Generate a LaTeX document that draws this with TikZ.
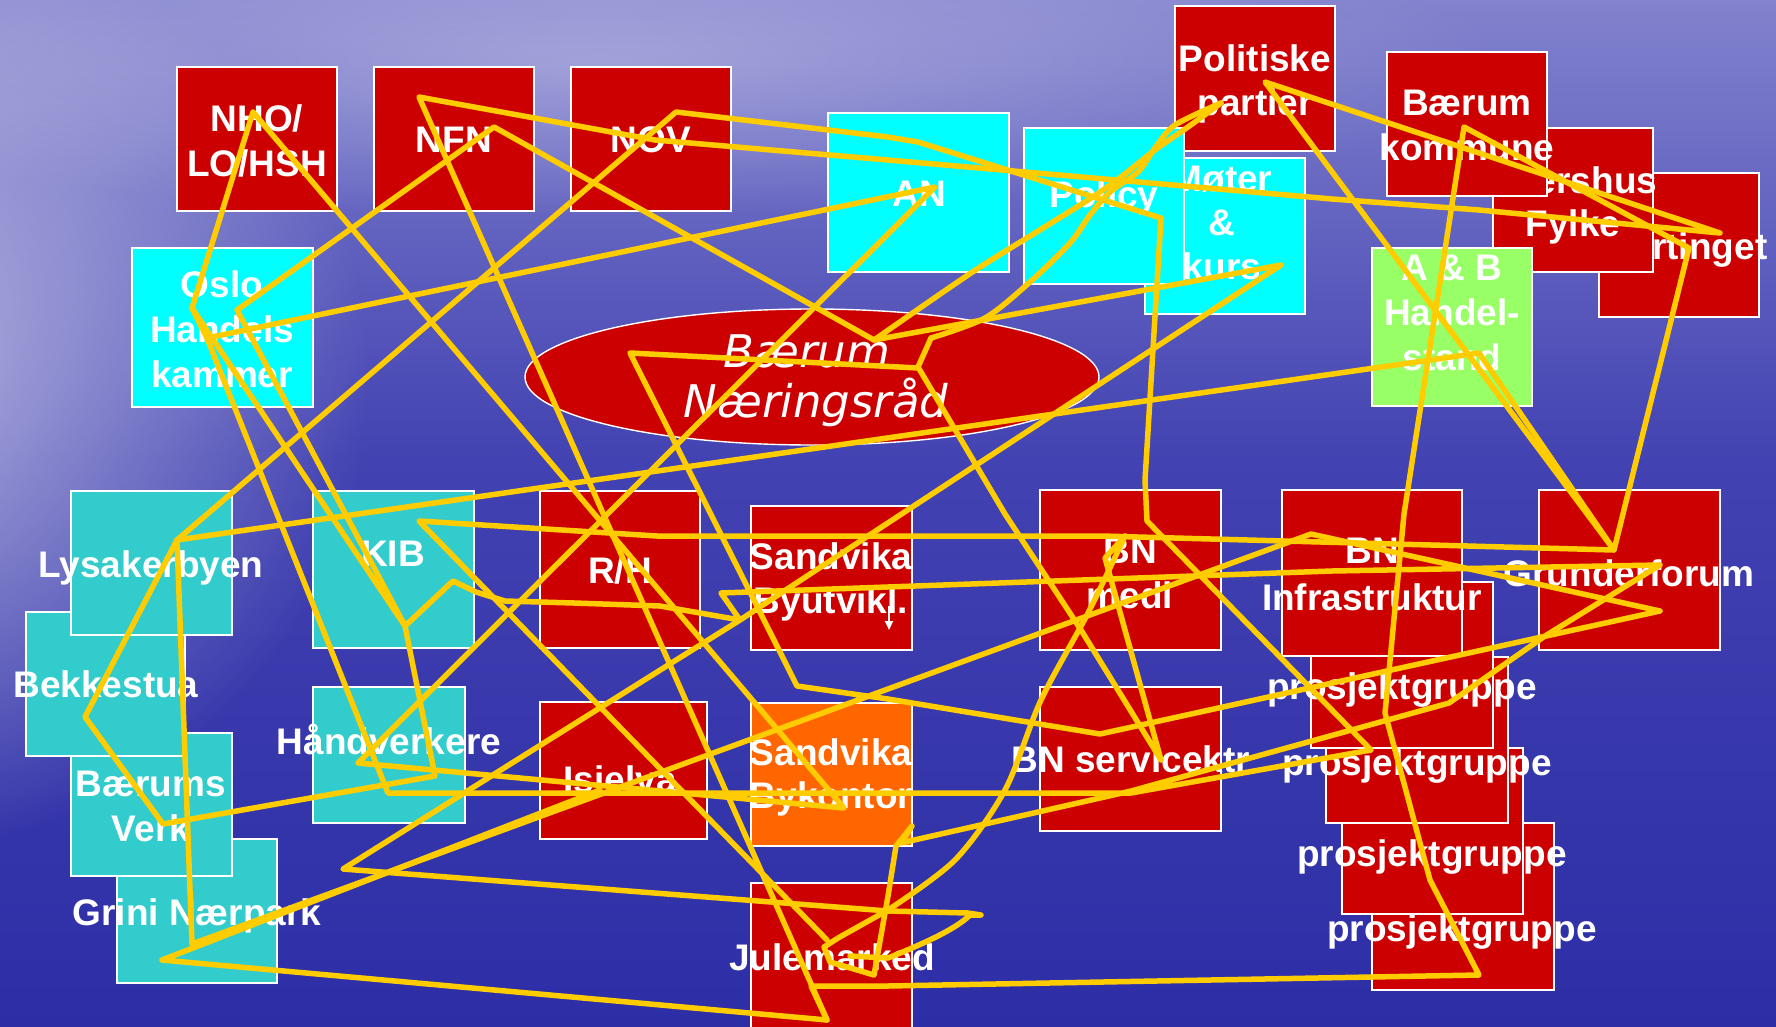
\documentclass[tikz,border=0pt]{standalone}
\usepackage{fontspec}
\setmainfont{Liberation Sans}
\newfontfamily\ellfont{DejaVu Sans}
\usetikzlibrary{fadings,fit,arrows.meta,shapes.geometric}
\definecolor{bred}{HTML}{CC0000}
\definecolor{bcyan}{HTML}{00FFFF}
\definecolor{bteal}{HTML}{33CCCC}
\definecolor{bgreen}{HTML}{99FF66}
\definecolor{borange}{HTML}{FF6600}
\definecolor{scrib}{HTML}{FFCC00}
\definecolor{bgtop}{HTML}{8282CE}
\definecolor{bgmid}{HTML}{4242B2}
\definecolor{bgbot}{HTML}{2D2DA6}
\tikzfading[name=glowfade, inner color=transparent!0, outer color=transparent!100]
\newcommand\bxfont{\fontsize{37}{44}\selectfont\bfseries}
\newcommand\elfont{\ellfont\itshape\fontsize{45}{50}\selectfont}
\tikzset{
  box/.style={draw=white, line width=1.4pt, inner sep=0pt, outer sep=0pt},
  lbl/.style={text=white, font=\bxfont, inner sep=0pt, text height=27pt, text depth=0pt},
  scr/.style={draw=scrib, line width=5.5pt, line join=round, line cap=round},
}
\begin{document}
\begin{tikzpicture}[x=1pt,y=-1pt]
\useasboundingbox (0,0) rectangle (1776,1027);
\clip (0,0) rectangle (1776,1027);
% background
\shade[top color=bgtop, bottom color=bgmid] (0,0) rectangle (1776,460);
\shade[top color=bgmid, bottom color=bgbot] (0,459) rectangle (1776,1027);
\fill[white, path fading=glowfade, fill opacity=0.6] (-150,380) ellipse [x radius=520pt, y radius=480pt];
\fill[white, path fading=glowfade, fill opacity=0.3] (600,60) ellipse [x radius=900pt, y radius=160pt];

% top row
\node[box, fill=bred, fit={(177,67) (337,211)}] (nho) {};
\node[lbl] (nhoA) at (257,118) {NHO/};
\node[lbl] (nhoB) at (257,163) {LO/HSH};
\node[box, fill=bred, fit={(374,67) (534,211)}] (nfn) {};
\node[lbl] (nfnA) at (454,139) {NFN};
\node[box, fill=bred, fit={(571,67) (731,211)}] (nov) {};
\node[lbl] (novA) at (651,139) {NOV};
\node[box, fill=bcyan, fit={(828,113) (1009,272)}] (an) {};
\node[lbl] (anA) at (919,193) {AN};
\node[box, fill=bred, fit={(1175,6) (1335,151)}] (pol) {};
\node[lbl] (polA) at (1255,58) {Politiske};
\node[lbl] (polB) at (1255,102) {partier};
\node[box, fill=bcyan, fit={(1145,158) (1305,314)}] (mot) {};
\node[lbl] (motA) at (1222,178) {Møter};
\node[lbl] (motB) at (1222,222) {\&};
\node[lbl] (motC) at (1222,266) {kurs};
\node[box, fill=bcyan, fit={(1024,128) (1184,284)}] (policy) {};
\node[lbl] (policyA) at (1104,194) {Policy};
\node[box, fill=bred, fit={(1599,173) (1759,317)}] (sto) {};
\node[lbl] (stoA) at (1680,246) {Stortinget};
\node[box, fill=bred, fit={(1493,128) (1653,272)}] (ake) {};
\node[lbl] (akeA) at (1573,180) {Akershus};
\node[lbl] (akeB) at (1573,223) {Fylke};
\node[box, fill=bred, fit={(1387,52) (1547,196)}] (bk) {};
\node[lbl] (bkA) at (1467,102) {Bærum};
\node[lbl] (bkB) at (1467,147) {kommune};
\node[box, fill=bgreen, fit={(1372,248) (1532,406)}] (ab) {};
\node[lbl] (abA) at (1452,267) {A \& B};
\node[lbl] (abB) at (1452,312) {Handel-};
\node[lbl] (abC) at (1452,357) {stand};
\node[box, fill=bcyan, fit={(132,248) (313,407)}] (oslo) {};
\node[lbl] (osloA) at (222,284) {Oslo};
\node[lbl] (osloB) at (222,329) {Handels};
\node[lbl] (osloC) at (222,374) {kammer};

% ellipse
\node[draw=white, line width=1.4pt, fill=bred, ellipse, inner sep=0pt, minimum width=574pt, minimum height=136pt] (bnr) at (812,377) {};
\node[text=white, font=\elfont, anchor=base, inner sep=0pt] (bnrA) at (807,367) {Bærum};
\node[text=white, font=\elfont, anchor=base, inner sep=0pt] (bnrB) at (816,417) {Næringsråd};

% left column
\node[box, fill=bteal, fit={(117,839) (277,983)}] (grini) {};
\node[lbl] (griniA) at (197,912) {Grini Nærpark};
\node[box, fill=bteal, fit={(71,733) (232,876)}] (bverk) {};
\node[lbl] (bverkA) at (151,783) {Bærums};
\node[lbl] (bverkB) at (151,828) {Verk};
\node[box, fill=bteal, fit={(26,612) (185,756)}] (bekk) {};
\node[lbl] (bekkA) at (106,684) {Bekkestua};
\node[box, fill=bteal, fit={(71,491) (232,635)}] (lysa) {};
\node[lbl] (lysaA) at (151,564) {Lysakerbyen};
\node[box, fill=bteal, fit={(313,491) (474,648)}] (kib) {};
\node[lbl] (kibA) at (393,553) {KIB};
\node[box, fill=bteal, fit={(313,687) (465,823)}] (hand) {};
\node[lbl] (handA) at (389,741) {Håndverkere};

% middle
\node[box, fill=bred, fit={(540,491) (700,648)}] (rh) {};
\node[lbl] (rhA) at (620,570) {R/H};
\node[box, fill=bred, fit={(540,702) (707,839)}] (isi) {};
\node[lbl] (isiA) at (620,779) {Isielva};
\node[box, fill=bred, fit={(751,506) (912,650)}] (sby) {};
\node[lbl] (sbyA) at (831,556) {Sandvika};
\node[lbl] (sbyB) at (831,600) {Byutvikl.};
\draw[white, line width=2pt, -{Triangle[length=9pt,width=8pt]}] (889,606) -- (889,630);
\node[box, fill=borange, fit={(751,703) (912,846)}] (sbk) {};
\node[lbl] (sbkA) at (831,752) {Sandvika};
\node[lbl] (sbkB) at (831,795) {Bykontor};
\node[box, fill=bred, fit={(751,883) (912,1045)}] (jul) {};
\node[lbl] (julA) at (832,957) {Julemarked};
\node[box, fill=bred, fit={(1040,490) (1221,650)}] (bnm) {};
\node[lbl] (bnmA) at (1130,550) {BN};
\node[lbl] (bnmB) at (1130,595) {medl};
\node[box, fill=bred, fit={(1040,687) (1221,831)}] (bns) {};
\node[lbl] (bnsA) at (1131,759) {BN servicektr};

% right
\node[box, fill=bred, fit={(1372,823) (1554,990)}] (pg4) {};
\node[lbl] (pg4A) at (1462,928) {prosjektgruppe};
\node[box, fill=bred, fit={(1342,748) (1523,914)}] (pg3) {};
\node[lbl] (pg3A) at (1432,853) {prosjektgruppe};
\node[box, fill=bred, fit={(1326,657) (1508,823)}] (pg2) {};
\node[lbl] (pg2A) at (1417,762) {prosjektgruppe};
\node[box, fill=bred, fit={(1311,582) (1493,748)}] (pg1) {};
\node[lbl] (pg1A) at (1402,686) {prosjektgruppe};
\node[box, fill=bred, fit={(1282,490) (1462,656)}] (bni) {};
\node[lbl] (bniA) at (1372,550) {BN};
\node[lbl] (bniB) at (1372,597) {Infrastruktur};
\node[box, fill=bred, fit={(1539,490) (1720,650)}] (gru) {};
\node[lbl] (gruA) at (1629,573) {Grunderforum};

% scribble
\draw[scr] (253,112) -- (192,308) -- (207,338) -- (935,187) -- (358,763) -- (844,808) -- (253,112);
\draw[scr] (207,338) -- (388,793) -- (1131,793) -- (1371,750) -- (1147,521) -- (1145,480) -- (1161,218)
  -- (918,142) -- (888,137) -- (676,112) -- (177,540) -- (85,717) -- (163,824) -- (435,776) -- (405,626)
  -- (453,581) -- (476,592) -- (505,601) -- (574,603) -- (660,606) -- (740,620) -- (721,593)
  -- (1332,571) -- (1660,565) -- (1545,636) -- (1449,703) -- (1131,791) -- (901,843) -- (912,826)
  -- (896,846) -- (888,896) -- (874,975) -- (830,962) -- (824,947) -- (838,938) -- (888,910);
\draw[scr] plot[smooth] coordinates {(888,910) (955,860) (1005,790) (1041,700) (1088,613) (1125,536)};
\draw[scr] (1125,536) -- (1105,558) -- (1161,760) -- (1081,630) -- (1005,514) -- (918,367) -- (931,338);
\draw[scr] plot[smooth] coordinates {(931,338) (985,318) (1030,282) (1070,243) (1090,215) (1110,192) (1138,172) (1155,148) (1175,125) (1221,103)};
\draw[scr] plot[smooth] coordinates {(1221,103) (1188,127) (1155,150) (1121,177) (1088,200) (1035,233) (971,273) (874,340)};
\draw[scr] (192,308) -- (405,626) -- (237,310) -- (494,127) -- (874,340) -- (1281,265) -- (740,620)
  -- (343,869) -- (888,911) -- (968,913) -- (981,915) -- (970,915)
  .. controls (955,930) and (920,945) .. (888,958) -- (850,956);
\draw[scr] (177,540) -- (192,944) -- (1311,534) -- (1660,611) -- (1100,734) -- (888,699) -- (797,686)
  -- (630,353) -- (918,368);
\draw[scr] (177,540) -- (1479,353) -- (1614,550) -- (1689,248) -- (1464,127) -- (1404,514) -- (1385,713)
  -- (1430,880) -- (1479,975) -- (888,986) -- (811,986) -- (827,1020) -- (162,960) -- (600,790);
\draw[scr] (827,1020) -- (419,97) -- (655,140) -- (888,160) -- (1332,199) -- (1479,210) -- (1720,233)
  -- (1265,82) -- (1614,550) -- (1101,536) -- (657,536) -- (419,521) -- (827,940);
\end{tikzpicture}
\end{document}
